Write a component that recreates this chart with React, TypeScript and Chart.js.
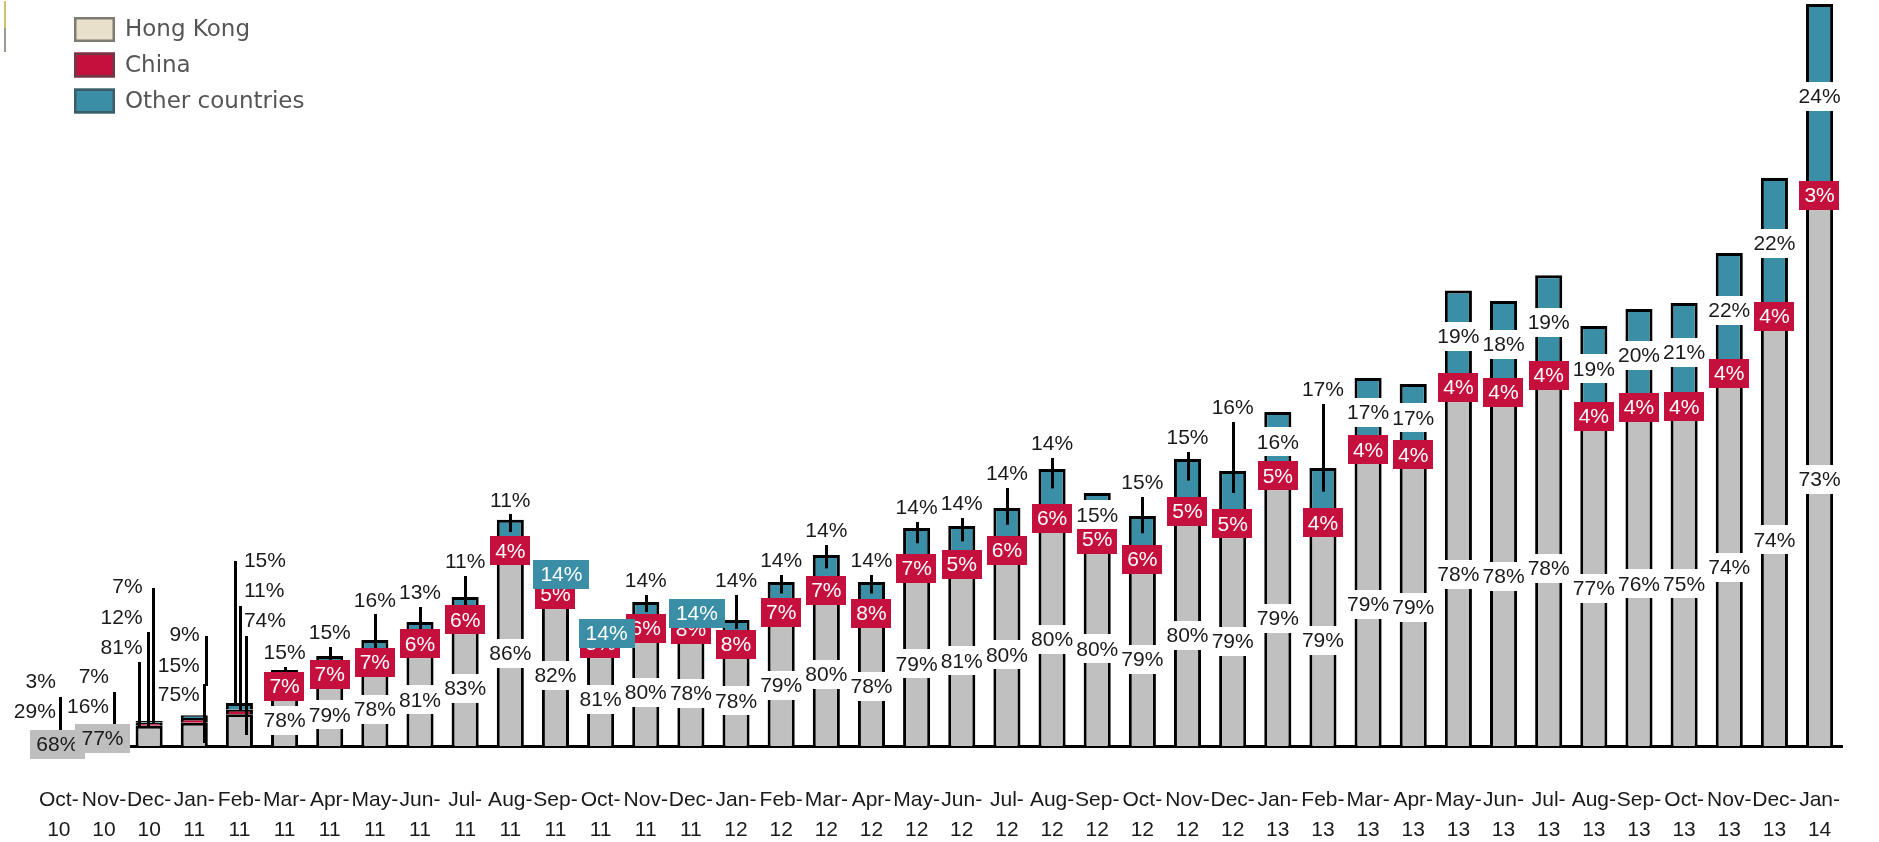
import React, { useEffect, useRef } from 'react';
import { Chart, registerables } from 'chart.js';

Chart.register(...registerables);

// ---- categories ----
const months = ['Oct', 'Nov', 'Dec', 'Jan', 'Feb', 'Mar', 'Apr', 'May', 'Jun', 'Jul', 'Aug', 'Sep',
  'Oct', 'Nov', 'Dec', 'Jan', 'Feb', 'Mar', 'Apr', 'May', 'Jun', 'Jul', 'Aug', 'Sep',
  'Oct', 'Nov', 'Dec', 'Jan', 'Feb', 'Mar', 'Apr', 'May', 'Jun', 'Jul', 'Aug', 'Sep',
  'Oct', 'Nov', 'Dec', 'Jan'];
const years = ['10', '10', '10', '11', '11', '11', '11', '11', '11', '11', '11', '11',
  '11', '11', '11', '12', '12', '12', '12', '12', '12', '12', '12', '12',
  '12', '12', '12', '13', '13', '13', '13', '13', '13', '13', '13', '13',
  '13', '13', '13', '14'];

// ---- values ----
// overall bar size (index)
const totals = [10, 14, 25, 31, 43, 76, 89, 105, 124, 149, 224, 182, 125, 144, 145, 126, 164, 189, 164, 218,
  220, 238, 277, 253, 230, 287, 275, 334, 278, 368, 362, 451, 445, 466, 420, 437, 443, 493, 568, 742];
// shares in %
const hongKongShare = [68, 77, 81, 75, 74, 78, 79, 78, 81, 83, 86, 82, 81, 80, 78, 78, 79, 80, 78, 79,
  81, 80, 80, 80, 79, 80, 79, 79, 79, 79, 79, 78, 78, 78, 77, 76, 75, 74, 74, 73];
const chinaShare = [29, 16, 12, 15, 11, 7, 7, 7, 6, 6, 4, 5, 5, 6, 8, 8, 7, 7, 8, 7,
  5, 6, 6, 5, 6, 5, 5, 5, 4, 4, 4, 4, 4, 4, 4, 4, 4, 4, 4, 3];
const otherShare = [3, 7, 7, 9, 15, 15, 15, 16, 13, 11, 11, 14, 14, 14, 14, 14, 14, 14, 14, 14,
  14, 14, 14, 15, 15, 15, 16, 16, 17, 17, 17, 19, 18, 19, 19, 20, 21, 22, 22, 24];
const seriesNames = ['Hong Kong', 'China', 'Other countries'];

// ---- annotation placement for the "Other" label (number = lift above bar with leader line) ----
const otherLabelPlacement: (number | string)[] = ['stack', 'stack', 'stack', 'stack', 'stack',
  18, 24, 40, 30, 36, 20, 'box', 'box', 22, 'box', 40, 22, 25, 22, 21, 23, 35, 26, 'in', 34, 22, 64, 'in', 79,
  'in', 'in', 'in', 'in', 'in', 'in', 'in', 'in', 'in', 'in', 'in'];

// early months: labels stacked beside the tiny bars
const earlyLayout: any[] = [
  { align: 'right', edge: -3, other: -65, china: -35, hkBox: [-1.5, -1.5], lines: [[1, -49, -16]] },
  { align: 'right', edge: 5, other: -70, china: -40, hkBox: [-1.5, -7.5], lines: [[10, -54, -22]] },
  { align: 'right', edge: -6.5, other: -160, china: -129, hk: -99, lines: [[3.5, -158, -22], [-1.5, -114, -20], [-10.5, -84, -18]] },
  { align: 'right', edge: 5.5, other: -112, china: -81, hk: -52, lines: [[12, -110, -60], [10, -62, -3]] },
  { align: 'left', edge: 4.5, other: -186, china: -156, hk: -126, lines: [[-4.5, -185, -40], [0.5, -140, -36], [6.5, -110, -11]] },
];

const COLORS = {
  hk: '#C0C0C0',
  hkLegend: '#E8E0CA',
  china: '#C50F3C',
  other: '#3A8FA6',
  hkTag: '#BEBEBE',
  text: '#1a1a1a',
};
const LABEL_FONT = '21px "Liberation Sans", Arial, sans-serif';

function drawTag(ctx: CanvasRenderingContext2D, text: string, cx: number, cy: number,
  bg: string | null, fg: string, padX: number, h = 29) {
  const w = ctx.measureText(text).width + padX * 2;
  if (bg) {
    ctx.fillStyle = bg;
    ctx.fillRect(Math.round(cx - w / 2), Math.round(cy - h / 2), Math.round(w), h);
  }
  ctx.fillStyle = fg;
  ctx.textAlign = 'center';
  ctx.fillText(text, cx, cy + 1);
}

const shareLabelPlugin = {
  id: 'shareLabels',
  afterDatasetsDraw(chart: any) {
    const ctx: CanvasRenderingContext2D = chart.ctx;
    const hk = chart.getDatasetMeta(0).data;
    const cn = chart.getDatasetMeta(1).data;
    const ot = chart.getDatasetMeta(2).data;
    const base = chart.scales.y.getPixelForValue(0);
    const n = hk.length;
    ctx.save();
    ctx.font = LABEL_FONT;
    ctx.textBaseline = 'middle';
    ctx.strokeStyle = '#000';
    ctx.lineWidth = 3;
    const vline = (x: number, y1: number, y2: number) => {
      const xx = Math.round(x) + 0.5;
      ctx.beginPath();
      ctx.moveTo(xx, y1);
      ctx.lineTo(xx, y2);
      ctx.stroke();
    };
    // leader lines
    for (let i = 0; i < n; i++) {
      const cx = hk[i].x;
      const place = otherLabelPlacement[i];
      if (i < earlyLayout.length) {
        for (const [dx, from, to] of earlyLayout[i].lines) vline(cx + dx, base + from, base + to);
      } else if (typeof place === 'number') {
        const ly = ot[i].y - place;
        const mid = (ot[i].y + ot[i].base) / 2;
        vline(cx, ly + 11, mid);
      }
    }
    // early stacked labels
    for (let i = 0; i < Math.min(n, earlyLayout.length); i++) {
      const L = earlyLayout[i];
      const cx = hk[i].x;
      ctx.fillStyle = COLORS.text;
      ctx.textAlign = L.align;
      ctx.fillText(otherShare[i] + '%', cx + L.edge, base + L.other + 1);
      ctx.fillText(chinaShare[i] + '%', cx + L.edge, base + L.china + 1);
      if (L.hkBox) {
        drawTag(ctx, hongKongShare[i] + '%', cx + L.hkBox[0], base + L.hkBox[1], COLORS.hkTag, COLORS.text, 6.5);
      } else {
        ctx.textAlign = L.align;
        ctx.fillStyle = COLORS.text;
        ctx.fillText(hongKongShare[i] + '%', cx + L.edge, base + L.hk + 1);
      }
    }
    // Hong Kong labels
    for (let i = earlyLayout.length; i < n; i++) {
      const el = hk[i];
      drawTag(ctx, hongKongShare[i] + '%', el.x, (el.y + el.base) / 2 + 4, '#ffffff', COLORS.text, 3);
    }
    // China labels
    for (let i = earlyLayout.length; i < n; i++) {
      const el = cn[i];
      drawTag(ctx, chinaShare[i] + '%', el.x, (el.y + el.base) / 2 + 2, COLORS.china, '#ffffff', 5);
    }
    // Other labels
    for (let i = earlyLayout.length; i < n; i++) {
      const el = ot[i];
      const place = otherLabelPlacement[i];
      const txt = otherShare[i] + '%';
      if (place === 'in') {
        drawTag(ctx, txt, el.x, (el.y + el.base) / 2 + 3, '#ffffff', COLORS.text, 3);
      } else if (place === 'box') {
        drawTag(ctx, txt, el.x + 6, el.y + 12, COLORS.other, '#ffffff', 7);
      } else if (typeof place === 'number') {
        drawTag(ctx, txt, el.x, el.y - place, '#ffffff', COLORS.text, 3);
      }
    }
    ctx.restore();
  },
};

const legendPlugin = {
  id: 'cornerLegend',
  afterDraw(chart: any) {
    const ctx: CanvasRenderingContext2D = chart.ctx;
    ctx.save();
    // small mark at the very left edge
    ctx.fillStyle = '#CFC36A';
    ctx.fillRect(4, 1, 2, 27);
    ctx.fillStyle = '#A09890';
    ctx.fillRect(4, 28, 2, 24);
    const swatches = [COLORS.hkLegend, COLORS.china, COLORS.other];
    const borders = ['#7d7b74', '#6e3a48', '#3d5d66'];
    const centers = [29.5, 65, 101];
    ctx.font = '23px "DejaVu Sans", "Liberation Sans", sans-serif';
    ctx.textBaseline = 'middle';
    ctx.textAlign = 'left';
    chart.data.datasets.forEach((ds: any, k: number) => {
      const cy = centers[k];
      ctx.fillStyle = swatches[k];
      ctx.fillRect(74, cy - 12.5, 41, 25);
      ctx.strokeStyle = borders[k];
      ctx.lineWidth = 2.5;
      ctx.strokeRect(75.25, cy - 11.25, 38.5, 22.5);
      ctx.fillStyle = '#555555';
      ctx.fillText(ds.label, 125, cy + 1);
    });
    ctx.restore();
  },
};

export default function App() {
  const canvasRef = useRef<HTMLCanvasElement | null>(null);

  useEffect(() => {
    if (!canvasRef.current) return;
    const labels = months.map((m, i) => [m + '-', years[i]]);
    const seg = (share: number[]) => totals.map((t, i) => (t * share[i]) / 100);
    const border = { top: 3, left: 3, right: 3, bottom: 0 };
    const common = {
      borderColor: '#000000',
      borderWidth: border,
      barPercentage: 0.6,
      categoryPercentage: 1,
      stack: 'visitors',
    };
    const chart = new Chart(canvasRef.current, {
      type: 'bar',
      data: {
        labels,
        datasets: [
          { label: seriesNames[0], data: seg(hongKongShare), backgroundColor: COLORS.hk, ...common },
          { label: seriesNames[1], data: seg(chinaShare), backgroundColor: COLORS.china, ...common },
          { label: seriesNames[2], data: seg(otherShare), backgroundColor: COLORS.other, ...common },
        ],
      },
      options: {
        animation: false,
        responsive: true,
        maintainAspectRatio: false,
        devicePixelRatio: 1,
        layout: { padding: { left: 33, right: 4, top: 1, bottom: 0 } },
        plugins: {
          legend: { display: false },
          tooltip: { enabled: false },
        },
        scales: {
          x: {
            stacked: true,
            grid: { display: false, drawTicks: false },
            border: { display: true, color: '#000000', width: 3 },
            ticks: {
              autoSkip: false,
              maxRotation: 0,
              minRotation: 0,
              padding: 39,
              color: COLORS.text,
              font: { family: '"Liberation Sans", Arial, sans-serif', size: 21, lineHeight: 30 / 21 },
            },
            afterFit: (scale: any) => { scale.height = 96; },
          },
          y: {
            stacked: true,
            display: false,
            min: 0,
            max: 745,
          },
        },
      } as any,
      plugins: [shareLabelPlugin, legendPlugin],
    });
    return () => chart.destroy();
  }, []);

  return (
    <div style={{ position: 'fixed', left: 0, top: 0, width: 1879, height: 842, background: '#ffffff' }}>
      <canvas ref={canvasRef} />
    </div>
  );
}
